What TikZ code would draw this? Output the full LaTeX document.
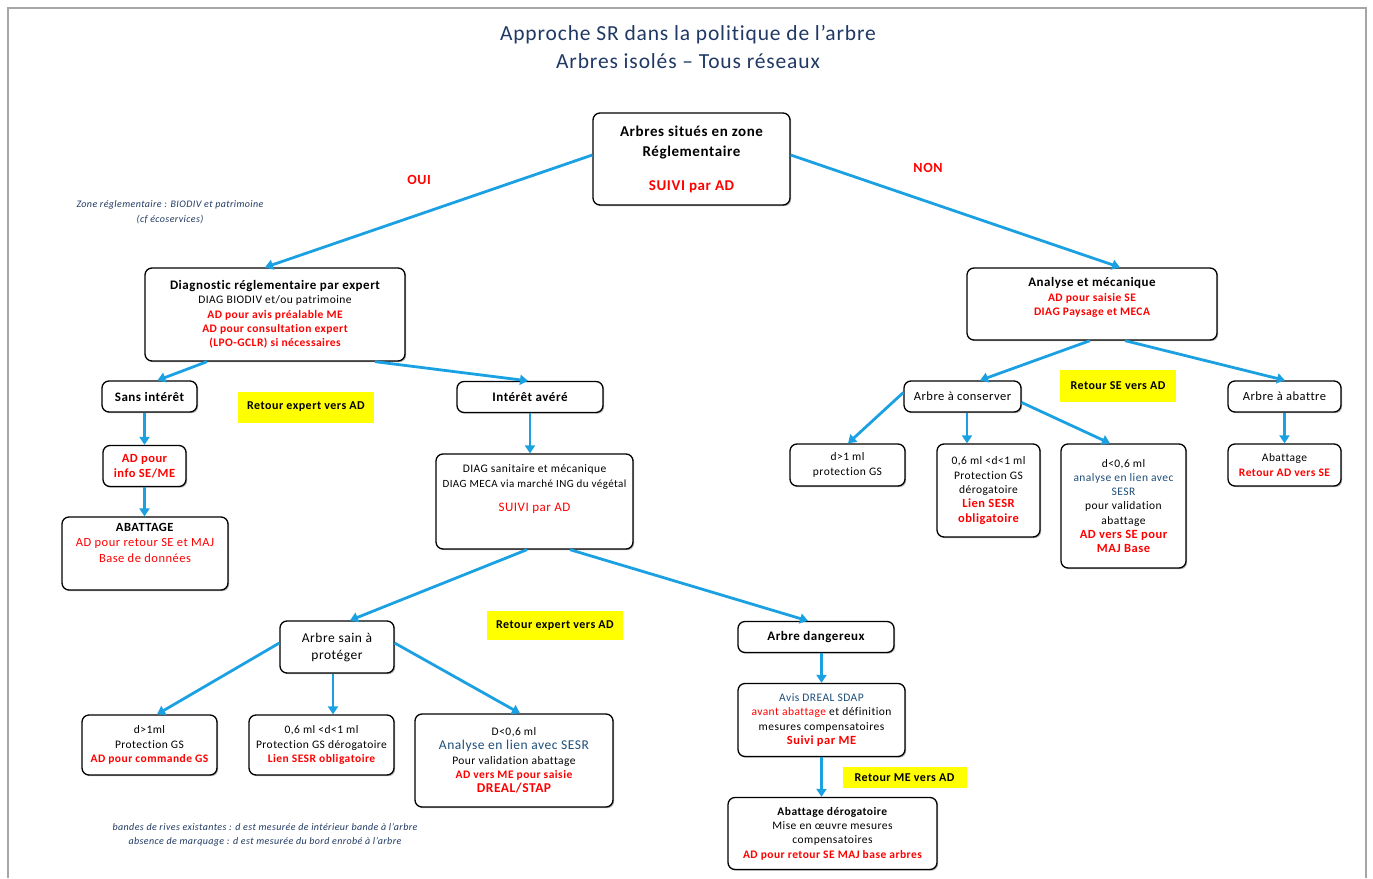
\documentclass[tikz,border=0pt]{standalone}
\usepackage{fontspec}
\setmainfont{Carlito}[LetterSpace=4, Ligatures=NoCommon]
\usetikzlibrary{arrows.meta,calc,shadows}
\definecolor{arrowblue}{HTML}{1BA1E2}
\definecolor{titleblue}{HTML}{1F3864}
\definecolor{txtred}{HTML}{FF0000}
\definecolor{darkblue}{HTML}{1F4E79}
\definecolor{hlyellow}{HTML}{FFFF00}
\definecolor{framegray}{HTML}{A6A6A6}
\newcommand\redt[1]{\textcolor{txtred}{#1}}
\newcommand\bluet[1]{\textcolor{darkblue}{#1}}
\tikzset{
 box/.style={draw=black, line width=1.3pt, rounded corners=7pt, fill=white, align=center, inner sep=1pt,
   font=\fontsize{11.5}{14.3}\selectfont,
   drop shadow={shadow xshift=1.2pt, shadow yshift=-1.2pt, fill=black, opacity=0.3}},
 hl/.style={fill=hlyellow, align=center, inner sep=0pt, font=\bfseries\fontsize{12}{14}\selectfont},
 arr/.style={draw=arrowblue, line width=2.8pt, -{Triangle[length=8pt,width=10pt]}},
 lbl/.style={text=txtred, font=\bfseries\fontsize{14}{16}\selectfont},
 note/.style={text=titleblue, font=\itshape\fontsize{10}{14.5}\selectfont, align=center},
 ttl/.style={text=titleblue, font=\fontsize{21.5}{28}\selectfont, align=center}
}
\begin{document}
\begin{tikzpicture}[x=1pt,y=-1pt]
\useasboundingbox (0,0) rectangle (1373,878);
\draw[framegray, line width=2pt] (8,878) -- (8,8) -- (1366,8) -- (1366,878);

% title
\node[ttl] (title) at (688,47) {Approche SR dans la politique de l’arbre\\Arbres isolés – Tous réseaux};

% notes
\node[note] (zone) at (170,212) {Zone réglementaire : BIODIV et patrimoine\\(cf écoservices)};
\node[note] (foot) at (265,835) {bandes de rives existantes : d est mesurée de intérieur bande à l’arbre\\absence de marquage : d est mesurée du bord enrobé à l’arbre};

% labels
\node[lbl] (oui) at (419,180) {OUI};
\node[lbl] (non) at (928,168) {NON};

% boxes
\node[box, minimum width=197pt, minimum height=92pt, font=\bfseries\fontsize{15}{20}\selectfont] (top) at (691.5,159)
 {Arbres situés en zone\\Réglementaire\\[14pt]\redt{SUIVI par AD}};
\node[box, minimum width=260pt, minimum height=93pt] (diag) at (275,314.5)
 {{\bfseries\fontsize{13}{14.3}\selectfont Diagnostic réglementaire par expert}\\DIAG BIODIV et/ou patrimoine\\\redt{\bfseries AD pour avis préalable ME}\\\redt{\bfseries AD pour consultation expert}\\\redt{\bfseries (LPO-GCLR) si nécessaires}};
\node[box, minimum width=95pt, minimum height=31pt, font=\bfseries\fontsize{13}{14}\selectfont] (sans) at (149.5,396.5) {Sans intérêt};
\node[box, minimum width=83pt, minimum height=41pt, font=\bfseries\fontsize{12.5}{15}\selectfont] (info) at (144.5,466) {\redt{AD pour}\\\redt{info SE/ME}};
\node[box, minimum width=166pt, minimum height=73pt, font=\fontsize{12.5}{15.5}\selectfont] (abat) at (145,553.5)
 {\textbf{ABATTAGE}\\\redt{AD pour retour SE et MAJ}\\\redt{Base de données}\\[2pt]\strut};
\node[box, minimum width=146pt, minimum height=31pt, font=\bfseries\fontsize{13}{14}\selectfont] (interet) at (530,397) {Intérêt avéré};
\node[box, minimum width=197pt, minimum height=95pt] (diagsan) at (534.5,501.5)
 {DIAG sanitaire et mécanique\\{\fontsize{11}{14.3}\selectfont DIAG MECA via marché ING du végétal}\\[10pt]{\fontsize{13}{14}\selectfont\redt{SUIVI par AD}}\\[8pt]\strut};
\node[box, minimum width=114pt, minimum height=52pt, font=\fontsize{13.5}{17}\selectfont] (sain) at (337,647) {Arbre sain à\\protéger};
\node[box, minimum width=156pt, minimum height=31pt, font=\bfseries\fontsize{13}{14}\selectfont] (dang) at (816,637) {Arbre dangereux};
\node[box, minimum width=135pt, minimum height=60pt] (dsup) at (149.5,745) {d>1ml\\Protection GS\\\redt{\bfseries AD pour commande GS}};
\node[box, minimum width=145pt, minimum height=60pt] (dmid) at (321.5,745) {0,6 ml <d<1 ml\\Protection GS dérogatoire\\\redt{\bfseries Lien SESR obligatoire}};
\node[box, minimum width=198pt, minimum height=93pt] (dinf) at (514,760.5)
 {D<0,6 ml\\{\fontsize{13.5}{14.3}\selectfont\bluet{Analyse en lien avec SESR}}\\Pour validation abattage\\\redt{\bfseries AD vers ME pour saisie}\\{\fontsize{13.5}{14.3}\selectfont\redt{\bfseries DREAL/STAP}}};
\node[box, minimum width=167pt, minimum height=73pt] (avis) at (821.5,720)
 {\bluet{Avis DREAL SDAP}\\\redt{avant abattage} et définition\\mesures compensatoires\\{\fontsize{12.5}{14.3}\selectfont\redt{\bfseries Suivi par ME}}};
\node[box, minimum width=209pt, minimum height=72pt] (derog) at (832.5,833.5)
 {\textbf{Abattage dérogatoire}\\Mise en œuvre mesures\\compensatoires\\\redt{\bfseries AD pour retour SE MAJ base arbres}};
\node[box, minimum width=250pt, minimum height=72pt] (analyse) at (1092,304)
 {{\bfseries\fontsize{13}{14.3}\selectfont Analyse et mécanique}\\\redt{\bfseries AD pour saisie SE}\\\redt{\bfseries DIAG Paysage et MECA}\\[-4pt]\strut};
\node[box, minimum width=117pt, minimum height=31pt, font=\fontsize{12.5}{14}\selectfont] (cons) at (962.5,396.5) {Arbre à conserver};
\node[box, minimum width=113pt, minimum height=31pt, font=\fontsize{12.5}{14}\selectfont] (abattre) at (1284.5,396.5) {Arbre à abattre};
\node[box, minimum width=115pt, minimum height=42pt] (rd1) at (847.5,465) {d>1 ml\\protection GS};
\node[box, minimum width=103pt, minimum height=93pt] (rd2) at (988.5,490.5)
 {0,6 ml <d<1 ml\\Protection GS\\dérogatoire\\{\fontsize{12.5}{14.3}\selectfont\redt{\bfseries Lien SESR}}\\{\fontsize{12.5}{14.3}\selectfont\redt{\bfseries obligatoire}}};
\node[box, minimum width=125pt, minimum height=124pt] (rd3) at (1123.5,506)
 {d<0,6 ml\\\bluet{analyse en lien avec}\\\bluet{SESR}\\pour validation\\abattage\\{\fontsize{12.5}{14.3}\selectfont\redt{\bfseries AD vers SE pour}}\\{\fontsize{12.5}{14.3}\selectfont\redt{\bfseries MAJ Base}}};
\node[box, minimum width=113pt, minimum height=42pt] (rab) at (1284.5,465) {Abattage\\\redt{\bfseries Retour AD vers SE}};

% yellow notes
\node[hl, minimum width=136pt, minimum height=31pt] (y1) at (306,407) {Retour expert vers AD};
\node[hl, minimum width=136pt, minimum height=29pt] (y2) at (555,625.5) {Retour expert vers AD};
\node[hl, minimum width=124pt, minimum height=21pt] (y3) at (904.5,777.5) {Retour ME vers AD};
\node[hl, minimum width=116pt, minimum height=32pt] (y4) at (1118,386) {Retour SE vers AD};

% arrows
\draw[arr] ([yshift=4pt]top.west) -- ([xshift=-10pt]diag.north);
\draw[arr] ([yshift=4pt]top.east) -- ([xshift=28pt]analyse.north);
\draw[arr] ([xshift=-68pt]diag.south) -- ([xshift=8pt]sans.north);
\draw[arr] ([xshift=100pt]diag.south) -- ([xshift=-2pt]interet.north);
\draw[arr] (info.north |- sans.south) -- (info.north);
\draw[arr] (info.south) -- (info.south |- abat.north);
\draw[arr] (interet.south) -- (interet.south |- diagsan.north);
\draw[arr] ([xshift=-7.5pt]diagsan.south) -- ([xshift=13pt]sain.north);
\draw[arr] ([xshift=35.5pt]diagsan.south) -- ([xshift=-8pt]dang.north);
\draw[arr] ([yshift=4pt]sain.west) -- ([xshift=7.5pt]dsup.north);
\draw[arr] ([xshift=-4pt]sain.south) -- ([xshift=11.5pt]dmid.north);
\draw[arr] ([yshift=4pt]sain.east) -- ([xshift=6pt]dinf.north);
\draw[arr] (avis.north |- dang.south) -- (avis.north);
\draw[arr] (avis.south) -- (avis.south |- derog.north);
\draw[arr] ([xshift=-2pt]analyse.south) -- ([xshift=17.5pt]cons.north);
\draw[arr] ([xshift=33pt]analyse.south) -- ([xshift=0.5pt]abattre.north);
\draw[arr] ([yshift=4pt]cons.west) -- ([xshift=0.5pt]rd1.north);
\draw[arr] ([xshift=4.5pt]cons.south) -- ([xshift=-21.5pt]rd2.north);
\draw[arr] ([yshift=-6pt]cons.east) -- ([xshift=-13.5pt]rd3.north);
\draw[arr] (abattre.south) -- (rab.north);
\end{tikzpicture}
\end{document}
